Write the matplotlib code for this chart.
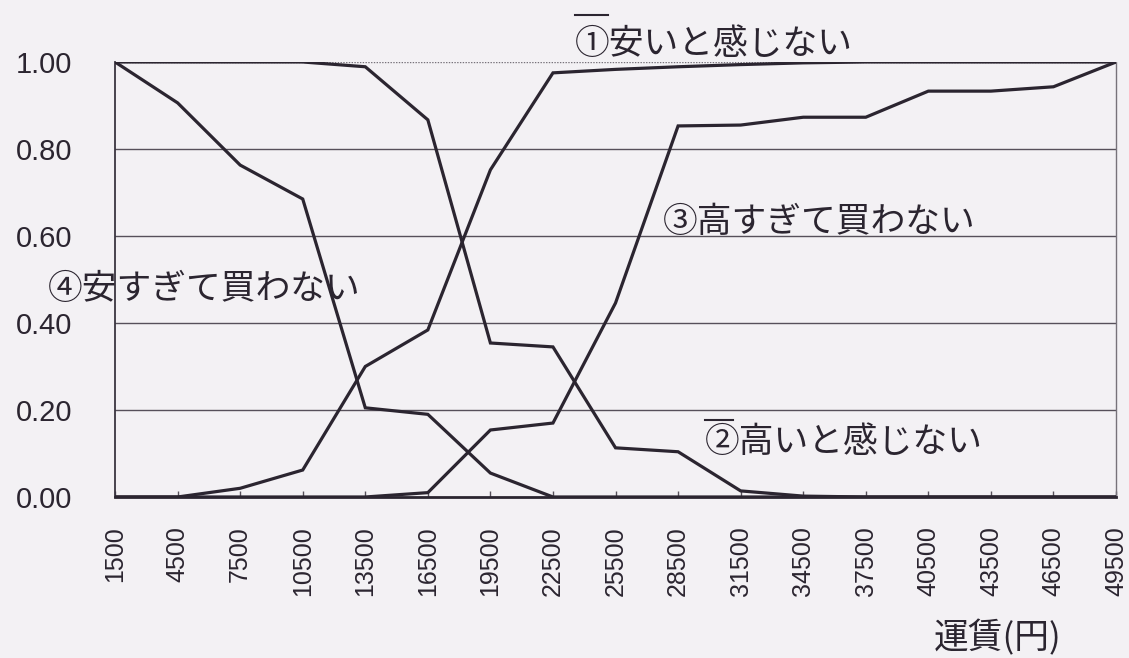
import matplotlib
matplotlib.use("Agg")
import matplotlib.pyplot as plt

# 運賃カテゴリ (円)
fares = [1500, 4500, 7500, 10500, 13500, 16500, 19500, 22500, 25500,
         28500, 31500, 34500, 37500, 40500, 43500, 46500, 49500]

# 累積比率
not_cheap = [0.00, 0.00, 0.02, 0.062, 0.30, 0.384, 0.752, 0.975, 0.983,
             0.989, 0.994, 0.998, 1.00, 1.00, 1.00, 1.00, 1.00]
not_expensive = [1.00, 1.00, 1.00, 1.00, 0.989, 0.867, 0.354, 0.345, 0.113,
                 0.104, 0.014, 0.002, 0.00, 0.00, 0.00, 0.00, 0.00]
too_expensive = [0.00, 0.00, 0.00, 0.00, 0.00, 0.01, 0.154, 0.17, 0.446,
                 0.853, 0.855, 0.873, 0.873, 0.933, 0.933, 0.943, 1.00]
too_cheap = [1.00, 0.906, 0.763, 0.685, 0.205, 0.19, 0.055, 0.00, 0.00,
             0.00, 0.00, 0.00, 0.00, 0.00, 0.00, 0.00, 0.00]

yticks = [0.0, 0.2, 0.4, 0.6, 0.8, 1.0]

jp = ['Noto Sans CJK JP', 'DejaVu Sans']
num = ['Liberation Sans', 'DejaVu Sans']
ink = '#2b2530'
bg = '#f3f1f4'

fig = plt.figure(figsize=(11.29, 6.58), dpi=100, facecolor=bg)
ax = fig.add_axes([0.1019, 0.2447, 0.8866, 0.6611])
ax.set_facecolor(bg)

x = list(range(len(fares)))
for ys in [not_cheap, not_expensive, too_expensive, too_cheap]:
    ax.plot(x, ys, color=ink, lw=2.3, solid_joinstyle='miter', zorder=3)

ax.set_xlim(0, len(fares) - 1)
ax.set_ylim(0, 1.0)

# grid lines
for v in yticks[1:-1]:
    ax.axhline(v, color='#56505a', lw=1.0, zorder=1)
ax.axhline(1.0, color='#77727a', lw=1.0, ls=(0, (1, 1)), zorder=1)

ax.spines['top'].set_visible(False)
ax.spines['right'].set_color('#77727a')
ax.spines['right'].set_linestyle((0, (1, 1)))
ax.spines['right'].set_linewidth(1.0)
ax.spines['left'].set_color('#3a3540')
ax.spines['left'].set_linewidth(1.3)
ax.spines['bottom'].set_color('#2b2530')
ax.spines['bottom'].set_linewidth(2.0)

ax.set_yticks(yticks)
ax.set_yticklabels([f"{v:.2f}" for v in yticks], family=num, fontsize=21, color=ink)
ax.tick_params(axis='y', length=0, pad=31)

ax.set_xticks(x)
ax.set_xticklabels([str(f) for f in fares], rotation=90, family=num,
                   fontsize=18, color=ink)
ax.tick_params(axis='x', direction='in', length=4.5, width=1.0,
               color='#56505a', pad=21)

ax.set_xlabel('運賃(円)', family=jp, fontsize=25, color=ink, ha='right', va='center')
ax.xaxis.set_label_coords(0.946, -0.324)

# series labels
ax.text(7.35, 1.041, '①安いと感じない', family=jp, fontsize=25, color=ink,
        ha='left', va='center', clip_on=False)
ax.text(9.43, 0.126, '②高いと感じない', family=jp, fontsize=25, color=ink,
        ha='left', va='center')
ax.text(8.76, 0.63, '③高すぎて買わない', family=jp, fontsize=25, color=ink,
        ha='left', va='center')
ax.text(-1.07, 0.476, '④安すぎて買わない', family=jp, fontsize=25, color=ink,
        ha='left', va='center', clip_on=False)

# small bars above the circled numbers
ax.plot([0.4595, 0.4925], [1.108, 1.108], transform=ax.transAxes,
        color=ink, lw=1.5, clip_on=False)
ax.plot([0.589, 0.617], [0.177, 0.177], transform=ax.transAxes,
        color=ink, lw=1.5, clip_on=False)

fig.savefig('out.png', dpi=100, facecolor=bg)
